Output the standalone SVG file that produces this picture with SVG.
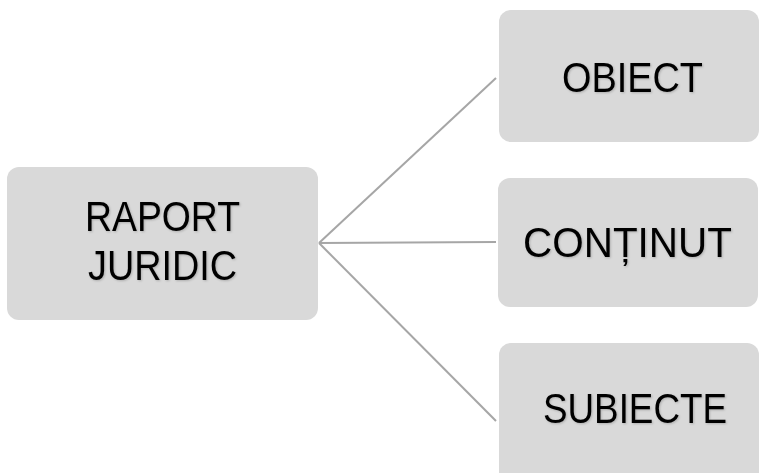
<svg xmlns="http://www.w3.org/2000/svg" width="762" height="473" viewBox="0 0 762 473">
  <defs>
    <style>
      .box { fill: #d9d9d9; }
      .lbl { font-family: "Liberation Sans", Arial, sans-serif; font-size: 43px; fill: #000; filter: url(#sh); }
      .conn { stroke: #a6a6a6; stroke-width: 2; fill: none; }
    </style>
    <filter id="sh" x="-10%" y="-20%" width="120%" height="140%">
      <feDropShadow dx="1" dy="1" stdDeviation="0.8" flood-color="#000" flood-opacity="0.2"/>
    </filter>
  </defs>
  <rect width="762" height="473" fill="#fff"/>
  <g id="connectors">
    <line class="conn" x1="319" y1="243" x2="496" y2="78"/>
    <line class="conn" x1="319" y1="243" x2="496" y2="242"/>
    <line class="conn" x1="319" y1="243" x2="496" y2="421"/>
  </g>
  <g id="raport">
    <rect class="box" x="7" y="167" width="311" height="153" rx="12"/>
    <text class="lbl" x="85" y="231" textLength="155" lengthAdjust="spacingAndGlyphs">RAPORT</text>
    <text class="lbl" x="88" y="280" textLength="149" lengthAdjust="spacingAndGlyphs">JURIDIC</text>
  </g>
  <g id="obiect">
    <rect class="box" x="499" y="10" width="260" height="132" rx="12"/>
    <text class="lbl" x="562" y="92" textLength="141" lengthAdjust="spacingAndGlyphs">OBIECT</text>
  </g>
  <g id="continut">
    <rect class="box" x="498" y="178" width="260" height="129" rx="12"/>
    <text class="lbl" x="523" y="257" textLength="209" lengthAdjust="spacingAndGlyphs">CONȚINUT</text>
  </g>
  <g id="subiecte">
    <rect class="box" x="499" y="343" width="260" height="145" rx="12"/>
    <text class="lbl" x="543" y="423" textLength="184" lengthAdjust="spacingAndGlyphs">SUBIECTE</text>
  </g>
</svg>
